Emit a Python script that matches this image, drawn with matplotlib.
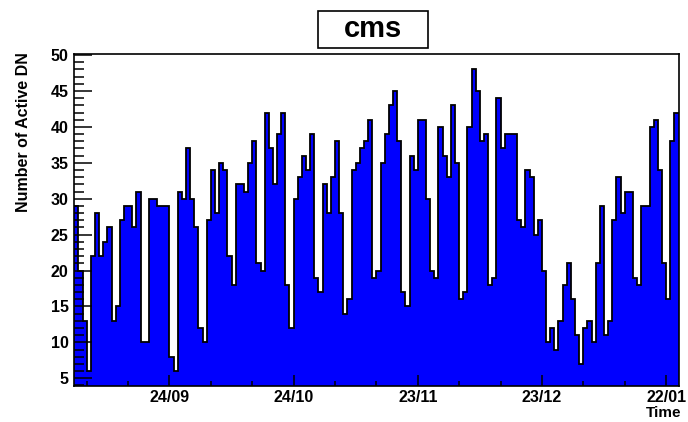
import numpy as np
import matplotlib
matplotlib.use("Agg")
import matplotlib.pyplot as plt
import matplotlib.dates as mdates
from matplotlib.patches import Rectangle
from matplotlib.ticker import FixedLocator, MultipleLocator
from datetime import datetime

# Daily counts of active DNs
start_day = "2008-09-01"
active_dn = [
    29, 20, 13, 6, 22, 28, 22, 24, 26, 13,
    15, 27, 29, 29, 26, 31, 10, 10, 30, 30,
    29, 29, 29, 8, 6, 31, 30, 37, 30, 26,
    12, 10, 27, 34, 28, 35, 34, 22, 18, 32,
    32, 31, 35, 38, 21, 20, 42, 37, 32, 39,
    42, 18, 12, 30, 33, 36, 34, 39, 19, 17,
    32, 28, 33, 38, 28, 14, 16, 34, 35, 37,
    38, 41, 19, 20, 35, 39, 43, 45, 38, 17,
    15, 36, 34, 41, 41, 30, 20, 19, 40, 36,
    33, 43, 35, 16, 17, 40, 48, 45, 38, 39,
    18, 19, 44, 37, 39, 39, 39, 27, 26, 34,
    33, 25, 27, 20, 10, 12, 9, 13, 18, 21,
    16, 11, 7, 12, 13, 10, 21, 29, 11, 13,
    27, 33, 28, 31, 31, 19, 18, 29, 29, 40,
    41, 34, 21, 16, 38, 42,
]
tick_labels = ["24/09", "24/10", "23/11", "23/12", "22/01"]
tick_dates = ["2008-09-24", "2008-10-24", "2008-11-23", "2008-12-23", "2009-01-22"]

plt.rcParams["font.family"] = ["Liberation Sans", "DejaVu Sans"]
plt.rcParams["font.weight"] = "bold"

t0 = mdates.date2num(datetime.strptime(start_day, "%Y-%m-%d"))
edges = t0 + np.arange(len(active_dn) + 1)

fig = plt.figure(figsize=(6.88, 4.22), dpi=100)
ax = fig.add_axes([0.108, 0.086, 0.8782, 0.7853])

ax.stairs(active_dn, edges, baseline=0, fill=True, color="#0000ff", lw=0)
ax.stairs(active_dn, edges, baseline=None, color="black", lw=1.3)

ax.set_xlim(edges[0], edges[-1])
ax.set_ylim(3.97, 50.1)

major = [mdates.date2num(datetime.strptime(d, "%Y-%m-%d")) for d in tick_dates]
minor = np.arange(major[0] - 20, edges[-1], 10)
ax.xaxis.set_major_locator(FixedLocator(major))
ax.set_xticklabels(tick_labels)
ax.xaxis.set_minor_locator(FixedLocator(minor))

ax.yaxis.set_major_locator(MultipleLocator(5))
ax.yaxis.set_minor_locator(MultipleLocator(1))
ax.set_yticks(np.arange(5, 51, 5))

ax.tick_params(axis="both", which="both", direction="in", width=1.1, color="black")
ax.tick_params(axis="x", which="major", length=8, pad=3, labelsize=11.5)
ax.tick_params(axis="x", which="minor", length=3.5)
ax.tick_params(axis="y", which="major", length=13, pad=4, labelsize=11.5)
ax.tick_params(axis="y", which="minor", length=7)
for lbl in ax.get_xticklabels() + ax.get_yticklabels():
    lbl.set_fontweight("bold")
for s in ax.spines.values():
    s.set_linewidth(1.2)

fig.text(24 / 688, 1 - 52 / 422, "Number of Active DN", rotation=90,
         ha="center", va="top", fontsize=11.5, fontweight="bold")
fig.text(681 / 688, 1 - 413 / 422, "Time", ha="right", va="center",
         fontsize=11, fontweight="bold")

# title box
bx0, bx1, by0, by1 = 318 / 688, 428 / 688, 1 - 48 / 422, 1 - 11 / 422
fig.patches.append(Rectangle((bx0, by0), bx1 - bx0, by1 - by0,
                             transform=fig.transFigure, fc="white",
                             ec="black", lw=1.2))
fig.text((bx0 + bx1) / 2, (by0 + by1) / 2, "cms", ha="center", va="center",
         fontsize=21, fontweight="bold")

fig.savefig("out.png", dpi=100)
